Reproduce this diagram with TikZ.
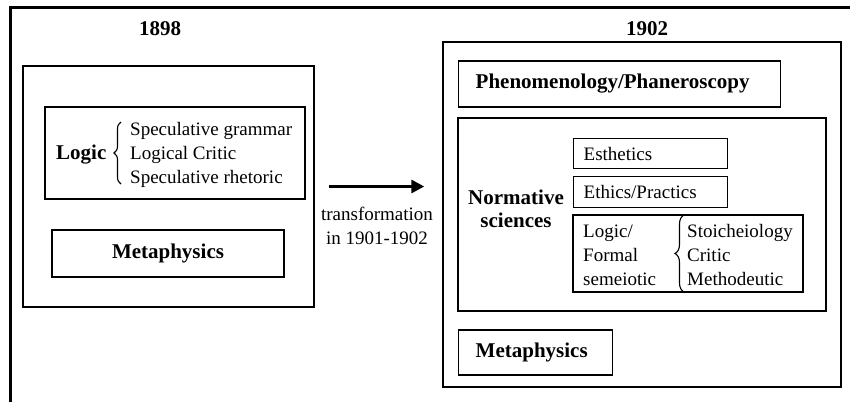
\documentclass[tikz,border=0pt]{standalone}
\usepackage{fontspec}
\setmainfont{Liberation Serif}
\usetikzlibrary{arrows.meta,decorations.pathreplacing}
\newcommand{\headfont}{\fontsize{21}{25}\selectfont\bfseries}
\newcommand{\bodyfont}{\fontsize{19}{24}\selectfont}

\begin{document}
\begin{tikzpicture}[x=1pt,y=-1pt,
		box/.style={draw, line width=1.4pt, inner sep=0pt},
		head/.style={font=\headfont, inner sep=0pt},
		txt/.style={font=\bodyfont, inner sep=0pt},
		curly/.style={decorate, decoration={brace,amplitude=7pt}, line width=1.1pt},
	]
	\useasboundingbox (0,0) rectangle (850,402);
	% page frame
	\draw[line width=3pt] (10,402) -- (10,7) -- (850,7);

	% 1898
	\draw (160,29) node[head] (y1898) {1898};
	\draw (168.5,186.5) node[box, minimum width=291, minimum height=241] (oldbox) {};
	\draw (175,153) node[box, minimum width=260, minimum height=92] (oldlogic) {};
	\draw (56,159) node[head, anchor=base west] (logic) {Logic};
	\draw[curly] (121,184) -- (121,122);
	\draw (130,135) node[txt, anchor=base west] (gram) {Speculative grammar};
	\draw (130,159) node[txt, anchor=base west] (crit) {Logical Critic};
	\draw (130,183) node[txt, anchor=base west] (rhet) {Speculative rhetoric};
	\draw (168,253.5) node[box, head, inner sep=0pt, minimum width=232, minimum height=47] (oldmeta) {Metaphysics};

	% 1902
	\draw (647,29) node[head] (y1902) {1902};
	\draw (642,214.5) node[box, minimum width=398, minimum height=345] (newbox) {};
	\draw (458,84) node[box, head, anchor=west, text width=288, inner xsep=17pt, minimum height=46, align=left] (phen) {Phenomenology/Phaneroscopy};
	\draw (642,214.5) node[box, minimum width=368, minimum height=193] (norm) {};
	\draw (516,204) node[head, anchor=base] (normtxt) {Normative};
	\draw (516,227) node[head, anchor=base] (scitxt) {sciences};
	\draw (573,138) node[box, txt, anchor=north west, text width=134, inner xsep=10pt, minimum height=30, align=left] (esth) {Esthetics};
	\draw (573,176) node[box, txt, anchor=north west, text width=134, inner xsep=10pt, minimum height=31, align=left] (ethi) {Ethics/Practics};
	\draw (688,253.5) node[box, minimum width=230, minimum height=77] (newlogic) {};
	\draw (583,237) node[txt, anchor=base west] (lform) {Logic/};
	\draw (583,261) node[txt, anchor=base west] (fform) {Formal};
	\draw (583,285) node[txt, anchor=base west] (sform) {semeiotic};
	\draw[curly, decoration={amplitude=9pt}] (684,292) -- (684,215);
	\draw (687,237) node[txt, anchor=base west] (stoi) {Stoicheiology};
	\draw (687,261) node[txt, anchor=base west] (ncrit) {Critic};
	\draw (687,285) node[txt, anchor=base west] (meth) {Methodeutic};
	\draw (458,352.5) node[box, head, anchor=west, text width=120, inner xsep=17pt, minimum height=45, align=left] (newmeta) {Metaphysics};

	% transformation
	\draw[line width=3pt, -{Triangle[length=13pt,width=13pt]}] ([xshift=14pt]oldbox.east) -- ([xshift=-18pt]oldbox.east -| newbox.west);
	\draw (377,226) node[txt, align=center] (trans) {transformation\\in 1901-1902};
\end{tikzpicture}
\end{document}
